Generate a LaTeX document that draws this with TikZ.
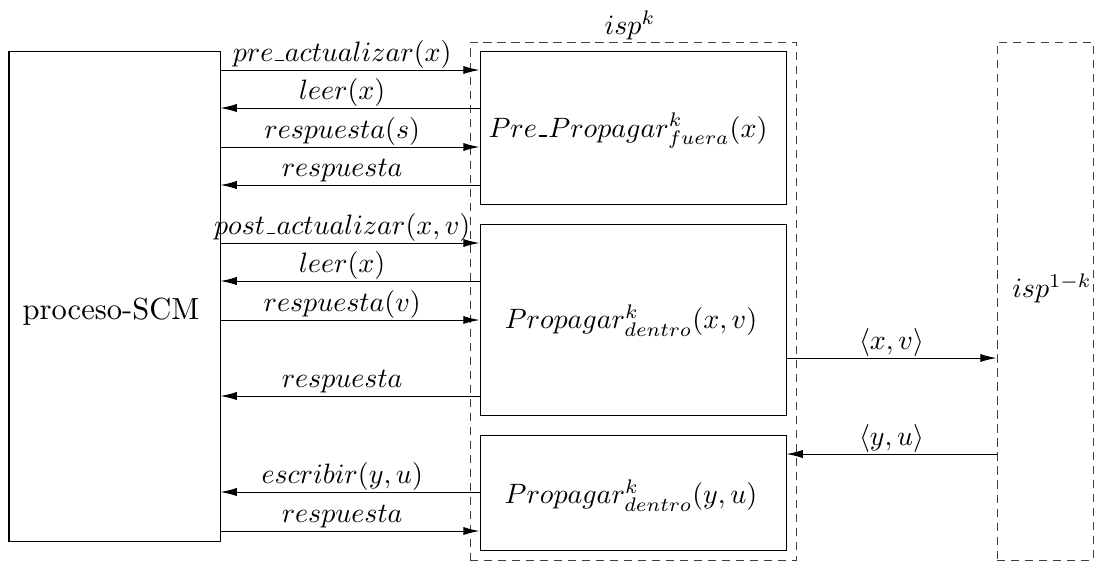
\documentclass[tikz,border=0pt]{standalone}
\usetikzlibrary{arrows.meta,fit}
\newcommand\usc{\mbox{\kern.06em\vbox{\hrule width.32em height 0.55pt}\kern.04em}}
\begin{document}
\begin{tikzpicture}[x=0.357pt,y=-0.357pt,line width=0.36pt,
  box/.style={draw,inner sep=0pt},
  dbox/.style={draw=black!75,dash pattern=on 2.9pt off 2.1pt,inner sep=0pt},
  txt/.style={inner sep=0pt,font=\fontsize{9.8}{12}\selectfont},
  arr/.style={-{Latex[length=5.8pt,width=2.9pt]}},
  lbl/.style={anchor=base,yshift=3.2pt,inner sep=0pt,font=\fontsize{9.8}{11}\selectfont}]
\useasboundingbox (0,0) rectangle (1094,561);
% boxes
\node[box,fit={(9,51)(220,541)}] (scm) {};
\node[inner sep=0pt,font=\fontsize{10.9}{13}\selectfont] (scmt) at (111,312) {proceso-SCM};
\node[dbox,fit={(470,42)(796,560)}] (ispk) {};
\node[dbox,fit={(997,42)(1093,560)}] (isp1k) {};
\node[box,fit={(480,51)(786,204)}] (b1) {};
\node[box,fit={(480,224)(786,415)}] (b2) {};
\node[box,fit={(480,435)(786,550)}] (b3) {};
\node[txt] (b1t) at (628,131) {$Pre\usc Propagar^k_{fuera}(x)$};
\node[txt] (b2t) at (631,321) {$Propagar^k_{dentro}(x,v)$};
\node[txt] (b3t) at (631,496) {$Propagar^k_{dentro}(y,u)$};
\node[inner sep=0pt,font=\fontsize{10.4}{12}\selectfont] (lk) at (630,25) {$isp^k$};
\node[inner sep=0pt,font=\fontsize{10.2}{12}\selectfont] (l1k) at (1052,288) {$isp^{1-k}$};
% connectors block 1
\draw[arr] (scm.east |- 0,70) -- (b1.west |- 0,70) node[lbl,pos=0.47] {$pre\usc actualizar(x)$};
\draw[arr] (b1.west |- 0,108) -- (scm.east |- 0,108) node[lbl,pos=0.53] {$leer(x)$};
\draw[arr] (scm.east |- 0,147) -- (b1.west |- 0,147) node[lbl,pos=0.47] {$respuesta(s)$};
\draw[arr] (b1.west |- 0,185) -- (scm.east |- 0,185) node[lbl,pos=0.53] {$respuesta$};
% block 2
\draw[arr] (scm.east |- 0,243) -- (b2.west |- 0,243) node[lbl,pos=0.47] {$post\usc actualizar(x,v)$};
\draw[arr] (b2.west |- 0,281) -- (scm.east |- 0,281) node[lbl,pos=0.53] {$leer(x)$};
\draw[arr] (scm.east |- 0,320) -- (b2.west |- 0,320) node[lbl,pos=0.47] {$respuesta(v)$};
\draw[arr] (b2.west |- 0,396) -- (scm.east |- 0,396) node[lbl,pos=0.53] {$respuesta$};
% block 3
\draw[arr] (b3.west |- 0,492) -- (scm.east |- 0,492) node[lbl,pos=0.53] {$escribir(y,u)$};
\draw[arr] (scm.east |- 0,531) -- (b3.west |- 0,531) node[lbl,pos=0.47] {$respuesta$};
% to/from isp^{1-k}
\draw[arr] (b2.east |- 0,358) -- (isp1k.west |- 0,358) node[lbl,midway] {$\langle x,v\rangle$};
\draw[arr] (isp1k.west |- 0,454) -- (b3.east |- 0,454) node[lbl,midway] {$\langle y,u\rangle$};
\end{tikzpicture}
\end{document}
